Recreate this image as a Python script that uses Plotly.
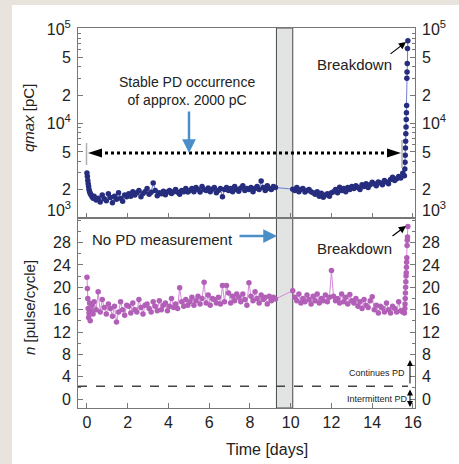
import plotly.graph_objects as go

# ---------------- data ----------------
time_days = [
    0.0, 0.02, 0.04, 0.06, 0.08, 0.1, 0.13, 0.16, 0.2, 0.25, 0.3,
    0.35, 0.45, 0.55, 0.65, 0.75, 0.85, 0.95, 1.05, 1.15, 1.25, 1.35, 1.45, 1.55, 1.65, 1.75, 1.85, 1.95,
    2.05, 2.15, 2.25, 2.35, 2.45, 2.55, 2.65, 2.75, 2.85, 2.95, 3.05, 3.15, 3.25, 3.35, 3.45,
    3.55, 3.65, 3.75, 3.85, 3.95, 4.05, 4.15, 4.25, 4.35, 4.45, 4.55, 4.65, 4.75, 4.85, 4.95,
    5.05, 5.15, 5.25, 5.35, 5.45, 5.55, 5.65, 5.75, 5.85, 5.95,
    6.05, 6.15, 6.25, 6.35, 6.45, 6.55, 6.65, 6.75, 6.85, 6.95,
    7.05, 7.15, 7.25, 7.35, 7.45, 7.55, 7.65, 7.75, 7.85, 7.95,
    8.05, 8.15, 8.25, 8.35, 8.45, 8.55, 8.65, 8.75, 8.85, 8.95,
    9.05, 9.15, 9.25,
    10.1, 10.2, 10.3, 10.4, 10.5, 10.6, 10.7, 10.8, 10.9, 11.0,
    11.1, 11.2, 11.3, 11.4, 11.5, 11.6, 11.7, 11.8, 11.9, 12.0,
    12.1, 12.2, 12.3, 12.4, 12.5, 12.6, 12.7, 12.8, 12.9, 13.0,
    13.1, 13.2, 13.3, 13.4, 13.5, 13.6, 13.7, 13.8, 13.9, 14.0,
    14.1, 14.2, 14.3, 14.4, 14.5, 14.6, 14.7, 14.8, 14.9, 15.0,
    15.1, 15.2, 15.3, 15.4, 15.5,
    15.58, 15.6, 15.61, 15.62, 15.63, 15.64, 15.65, 15.66, 15.67, 15.68, 15.69, 15.7, 15.71, 15.72, 15.73, 15.75,
]

qmax_pC = [
    3000, 2750, 2500, 2300, 2150, 2000, 1900, 1820, 1750, 1680, 1620,
    1700, 1550, 1620, 1480, 1750, 1600, 1520, 1800, 1650, 1450, 1700, 1580, 1850, 1620, 1500, 1750, 1680,
    1800, 1700, 1900, 1750, 1850, 1950, 1680, 1820, 1900, 2050, 1780, 1870, 2350, 1950, 1720,
    1850, 1800, 1920, 1760, 1880, 1950, 1820, 1900, 2000, 1870, 1780, 1950, 1900, 2050, 1880,
    1950, 2050, 1900, 2100, 2000, 1880, 2150, 2000, 1950, 2080,
    1900, 2020, 2100, 1850, 1950, 2050, 1680, 2000, 2100, 1950,
    2050, 1900, 2150, 2000, 1920, 2080, 2200, 1950, 2050, 2000,
    2100, 1900, 2050, 2150, 2000, 2470, 2100, 1950, 2200, 2050,
    2000, 2150, 2100,
    2020, 1950, 2100, 1900, 2000, 2050, 1880, 1950, 2000, 1900,
    1850, 1780, 1900, 1700, 1830, 1660, 1750, 1800, 1700, 1850,
    1900, 2000, 1850, 2120, 1950, 2050, 1900, 2100, 2000, 2150,
    2050, 2200, 2100, 2000, 2250, 2150, 2300, 2100, 2250, 2390,
    2300, 2200, 2400, 2350, 2250, 2500, 2400, 2300, 2550, 2700,
    2500, 2600, 2750, 2650, 2970,
    2800, 3300, 3900, 4600, 5500, 6500, 7800, 9200, 11000, 13000, 15500, 30000, 35000, 43000, 62000, 75000,
]

n_pulse_per_cycle = [
    21.8, 19.8, 18.0, 16.2, 14.6, 15.4, 17.2, 14.0, 15.8, 16.8, 15.2,
    17.4, 16.0, 19.2, 15.6, 17.8, 16.4, 15.2, 17.0, 16.2, 14.8, 16.6, 13.8, 15.6, 17.4, 16.0, 15.0, 16.8,
    16.6, 15.4, 17.2, 16.0, 15.6, 17.8, 16.4, 15.2, 16.8, 17.0, 16.2, 15.6, 17.4, 16.6, 15.8,
    17.6, 16.0, 16.8, 17.2, 15.8, 16.6, 18.0, 16.4, 17.0, 16.2, 19.9, 17.4, 16.6, 17.8, 16.8,
    17.4, 18.2, 16.8, 17.6, 18.4, 17.0, 18.0, 20.9, 17.2, 18.6,
    16.8, 18.0, 17.8, 17.2, 18.2, 17.0, 20.3, 17.4, 20.3, 19.0,
    17.2, 18.4, 17.6, 18.8, 18.2, 17.4, 18.8, 17.8, 16.8, 20.8,
    18.4, 17.6, 19.2, 18.0, 17.2, 18.6, 17.8, 18.2, 17.0, 18.4,
    17.6, 18.2, 17.9,
    19.4, 18.2, 17.6, 18.8, 17.2, 18.0, 17.4, 18.6, 17.8, 17.0,
    18.4, 17.6, 18.8, 17.2, 18.0, 17.6, 18.6, 17.4, 18.2, 23.0,
    18.4, 17.6, 18.0, 17.2, 18.8, 17.4, 18.2, 17.0, 18.7, 17.6,
    17.2, 18.0, 16.6, 17.4, 16.2, 17.8, 16.8, 16.4, 17.6, 18.3,
    16.0, 16.8, 15.4, 16.6, 16.3, 15.6, 17.2, 16.0, 15.4, 16.6,
    16.2, 15.6, 17.4, 15.8, 15.6,
    15.4, 16.2, 17.0, 18.0, 19.0, 20.0, 21.0, 22.0, 22.6, 23.6, 24.5, 25.3, 27.5, 28.4, 29.0, 30.9,
]

no_measurement_days = [9.3, 10.1]
pd_threshold_n = 2.3

q_tickvals = [1000, 2000, 5000, 10000, 20000, 50000, 100000]
q_ticktext = ["", "2", "5", "10<sup>4</sup>", "2", "5", "10<sup>5</sup>"]
q_bottom_label = "10<sup>3</sup>"
q_minor = [3000, 4000, 6000, 7000, 8000, 9000, 30000, 40000, 60000, 70000, 80000, 90000]
n_tickvals = [0, 4, 8, 12, 16, 20, 24, 28]
n_minor = [2, 6, 10, 14, 18, 22, 26, 30, 32]
x_tickvals = [0, 2, 4, 6, 8, 10, 12, 14, 16]

# ---------------- layout helpers ----------------
W, H = 459, 464
L, R, T, B = 78, 415, 28, 408


def px(xp):
    return (xp - L) / (R - L)


def py(yp):
    return (B - yp) / (B - T)


FONT = "Liberation Sans, Arial, sans-serif"
NARROW = "Liberation Sans Narrow, Liberation Sans, Arial, sans-serif"
AX = "#777777"
NAVY = "#262d7e"
MAG = "#b15fb7"
BEIGE = "#e9e3dd"

fig = go.Figure()

fig.add_trace(go.Scatter(
    x=time_days, y=qmax_pC, mode="lines+markers", xaxis="x", yaxis="y",
    line=dict(color="#6f7fd0", width=1),
    marker=dict(color=NAVY, size=5.5, line=dict(width=0)),
    showlegend=False, hoverinfo="skip"))

fig.add_trace(go.Scatter(
    x=time_days, y=n_pulse_per_cycle, mode="lines+markers", xaxis="x2", yaxis="y2",
    line=dict(color="#d58ad8", width=1),
    marker=dict(color=MAG, size=5.5, line=dict(width=0)),
    showlegend=False, hoverinfo="skip"))

xrange = [-0.44, 16.1]
qrange = [3, 5.01]
nrange = [-1.6, 32.4]

tickfont = dict(family=FONT, size=16, color="#222")

common_x = dict(range=xrange, showline=True, linecolor=AX, linewidth=1, mirror=True,
                ticks="inside", ticklen=5, tickcolor=AX, tickvals=x_tickvals,
                showgrid=False, zeroline=False, tickfont=tickfont)

layout = dict(
    width=W, height=H,
    margin=dict(l=L, r=W - R, t=T, b=H - B),
    paper_bgcolor=BEIGE,
    plot_bgcolor="rgba(0,0,0,0)",
    showlegend=False,
    xaxis=dict(domain=[0, 1], anchor="y", showticklabels=False, **common_x),
    xaxis2=dict(domain=[0, 1], anchor="y2", matches="x", showticklabels=True, **common_x),
    yaxis=dict(domain=[0.5, 1], anchor="x", type="log", range=qrange,
               tickvals=q_tickvals, ticktext=q_ticktext, ticks="inside", ticklen=5,
               tickcolor=AX, showline=True, linecolor=AX, mirror=True, showgrid=False,
               zeroline=False, tickfont=tickfont, ticklabelstandoff=3,
               minor=dict(tickvals=q_minor, ticks="inside", ticklen=3, tickcolor=AX)),
    yaxis3=dict(overlaying="y", anchor="x", side="right", type="log", range=qrange,
                tickvals=q_tickvals, ticktext=q_ticktext, ticks="inside", ticklen=5,
                tickcolor=AX, showline=False, showgrid=False, zeroline=False,
                tickfont=tickfont, ticklabelstandoff=6,
                minor=dict(tickvals=q_minor, ticks="inside", ticklen=3, tickcolor=AX)),
    yaxis2=dict(domain=[0, 0.5], anchor="x2", range=nrange, tickvals=n_tickvals,
                ticks="inside", ticklen=5, tickcolor=AX, showline=True, linecolor=AX,
                mirror=True, showgrid=False, zeroline=False, tickfont=tickfont,
                ticklabelstandoff=3,
                minor=dict(tickvals=n_minor, ticks="inside", ticklen=3, tickcolor=AX)),
    yaxis4=dict(overlaying="y2", anchor="x2", side="right", range=nrange,
                tickvals=n_tickvals, ticks="inside", ticklen=5, tickcolor=AX,
                showline=False, showgrid=False, zeroline=False, tickfont=tickfont,
                ticklabelstandoff=6,
                minor=dict(tickvals=n_minor, ticks="inside", ticklen=3, tickcolor=AX)),
)
fig.update_layout(**layout)

# dummy traces so the right-hand axes are drawn
fig.add_trace(go.Scatter(x=[None], y=[None], xaxis="x", yaxis="y3", showlegend=False))
fig.add_trace(go.Scatter(x=[None], y=[None], xaxis="x2", yaxis="y4", showlegend=False))

shapes = [
    # white page panel
    dict(type="rect", xref="paper", yref="paper", x0=px(12), x1=px(470), y0=py(5), y1=py(470),
         fillcolor="white", line=dict(width=0), layer="below"),
    # no-measurement band
    dict(type="rect", xref="x", yref="paper", x0=no_measurement_days[0], x1=no_measurement_days[1],
         y0=0, y1=1, fillcolor="#e2e3e3", line=dict(color="#4a4a4a", width=1), layer="below"),
    # dotted double arrow
    dict(type="line", xref="paper", yref="paper", x0=px(99), x1=px(390), y0=py(153), y1=py(153),
         line=dict(color="black", width=3, dash="dot")),
    dict(type="path", xref="paper", yref="paper",
         path=f"M {px(88)} {py(153)} L {px(102)} {py(148.5)} L {px(102)} {py(157.5)} Z",
         fillcolor="black", line=dict(width=0)),
    dict(type="path", xref="paper", yref="paper",
         path=f"M {px(401)} {py(153)} L {px(387)} {py(148.5)} L {px(387)} {py(157.5)} Z",
         fillcolor="black", line=dict(width=0)),
    dict(type="line", xref="paper", yref="paper", x0=px(86.5), x1=px(86.5), y0=py(143), y1=py(165),
         line=dict(color="#b0b0b0", width=1.5)),
    dict(type="line", xref="paper", yref="paper", x0=px(402), x1=px(402), y0=py(140), y1=py(168),
         line=dict(color="#b0b0b0", width=1.5)),
    # threshold dashed line
    dict(type="line", xref="paper", yref="y2", x0=0, x1=px(408), y0=pd_threshold_n, y1=pd_threshold_n,
         line=dict(color="#444", width=1.5, dash="dash")),
]
fig.update_layout(shapes=shapes)

ann = []


def text(xp, yp, s, size=14, family=FONT, color="#222", angle=0, xanchor="center"):
    ann.append(dict(x=px(xp), y=py(yp), xref="paper", yref="paper", text=s, showarrow=False,
                    font=dict(family=family, size=size, color=color), textangle=angle,
                    xanchor=xanchor, yanchor="middle"))


def arrow(tipx, tipy, tailx, taily, color, width, head=2, size=1.0, side="end"):
    ann.append(dict(x=px(tipx), y=py(tipy), xref="paper", yref="paper", text="",
                    showarrow=True, ax=tailx - tipx, ay=taily - tipy, axref="pixel", ayref="pixel",
                    arrowcolor=color, arrowwidth=width, arrowhead=head, arrowsize=size,
                    arrowside=side, startarrowhead=head, startarrowsize=size))


text(187, 91, "Stable PD occurrence<br>of approx. 2000 pC", size=14)
arrow(189, 153, 189, 110, "#4b8fc9", 2.5, head=2, size=1.1)
text(354, 65, "Breakdown", size=15)
arrow(406, 42, 389, 55, "black", 1.2, head=2, size=1.2)
text(162, 239, "No PD measurement", size=15)
arrow(277, 236, 238, 236, "#4b8fc9", 2.5, head=2, size=1.1)
text(354, 248, "Breakdown", size=15)
arrow(406, 226, 391, 237, "black", 1.2, head=2, size=1.2)
text(377, 373, "Continues PD", size=9, family=NARROW)
text(377, 399, "Intermittent PD", size=9, family=NARROW)
arrow(410, 360, 410, 385, "black", 1, head=2, size=1.2)
arrow(410, 407, 410, 388, "black", 1, head=2, size=1.2, side="end+start")
text(29, 118, "<i>qmax</i> [pC]", size=15, angle=-90)
text(29, 308, "<i>n</i> [pulse/cycle]", size=15, angle=-90)
text(267, 450, "Time [days]", size=16)
text(73, 209, q_bottom_label, size=16, xanchor="right")
text(420, 209, q_bottom_label, size=16, xanchor="left")

fig.update_layout(annotations=ann)

fig.write_html(
    "out.html",
    config={"displayModeBar": False},
    post_script=f"document.body.style.margin='0';document.body.style.background='{BEIGE}';",
)
